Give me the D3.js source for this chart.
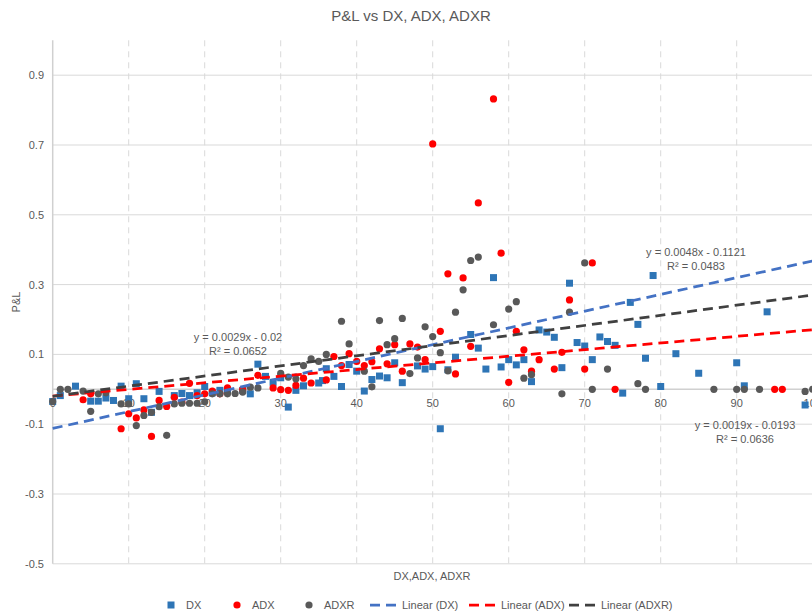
<html>
  <head>
    <meta charset="utf-8" />
    <title>P&amp;L vs DX, ADX, ADXR</title>
    <script src="https://d3js.org/d3.v7.min.js"></script>
    <style>
      body { margin: 0; background: #fff; }
      text { font-family: "Liberation Sans", Arial, sans-serif; fill: #595959; }
    </style>
  </head>
  <body>
    <div id="chart"></div>

    <script type="text/javascript">
      // values: [DX/ADX/ADXR value, P&L]
      var dxPoints = [
        [0, -0.035], [1, -0.018], [3, 0.009], [5, -0.034], [6, -0.034], [7, -0.025],
        [8, -0.032], [9, 0.009], [10, -0.027], [11, 0.016], [12, -0.027], [13, -0.066],
        [14, -0.006], [16, -0.018], [17, -0.012], [18, -0.018], [19, -0.01], [20, 0.008],
        [21, -0.01], [22, -0.003], [23, -0.003], [25, -0.003], [26, -0.013], [27, 0.072],
        [28, 0.037], [29, 0.02], [30, 0.033], [31, -0.051], [32, -0.003], [33, 0.01],
        [35, 0.018], [35.5, 0.025], [36, 0.059], [37, 0.037], [38, 0.008], [39, 0.071],
        [40, 0.052], [41, -0.005], [42, 0.028], [43, 0.038], [44, 0.033], [45, 0.076],
        [46, 0.019], [48, 0.067], [49, 0.058], [50, 0.065], [51, -0.113], [52, 0.056],
        [53, 0.092], [55, 0.157], [56, 0.118], [57, 0.058], [58, 0.32], [59, 0.064],
        [60, 0.085], [61, 0.07], [62, 0.085], [63, 0.022], [64, 0.17], [65, 0.164],
        [66, 0.149], [67, 0.062], [68, 0.304], [69, 0.134], [70, 0.124], [71, 0.085],
        [72, 0.15], [73, 0.137], [74, 0.126], [75, -0.011], [76, 0.249], [77, 0.186],
        [78, 0.089], [79, 0.326], [80, 0.008], [82, 0.102], [85, 0.046], [90, 0.076],
        [91, 0.01], [94, 0.222], [99, -0.045]
      ];

      var adxPoints = [
        [4, -0.03], [5, -0.013], [9, -0.113], [10, -0.07], [11, -0.082], [12, -0.059],
        [13, -0.135], [14, -0.032], [15, -0.049], [16, -0.023], [17, -0.037], [18, 0.017],
        [19, -0.018], [20, -0.013], [21, -0.005], [22, -0.013], [23, 0.004], [25, -0.001],
        [27, 0.04], [29, 0.004], [30, -0.001], [31, -0.003], [32, 0.011], [33, 0.032],
        [34, 0.018], [36, 0.027], [37, 0.094], [38, 0.068], [39, 0.102], [40, 0.08],
        [41, 0.068], [42, 0.079], [43, 0.116], [44, 0.073], [45, 0.128], [46, 0.052],
        [47, 0.13], [48, 0.121], [49, 0.085], [50, 0.703], [51, 0.166], [52, 0.331],
        [53, 0.044], [54, 0.319], [55, 0.123], [56, 0.534], [58, 0.832], [59, 0.39],
        [60, 0.02], [61, 0.166], [62, 0.113], [63, 0.052], [64, 0.085], [66, 0.058],
        [67, 0.106], [68, 0.256], [70, 0.058], [71, 0.362], [74, 0], [95, 0], [96, 0]
      ];

      var adxrPoints = [
        [0, -0.035], [1, 0], [2, 0], [4, -0.005], [5, -0.063], [6, -0.013], [7, -0.01],
        [9, -0.042], [10, -0.042], [11, -0.104], [12, -0.075], [13, -0.066], [14, -0.05],
        [15, -0.132], [16, -0.042], [17, -0.04], [18, -0.04], [19, -0.04], [20, -0.036],
        [21, -0.013], [22, -0.013], [23, -0.013], [24, -0.012], [25, -0.008], [26, 0.006],
        [27, 0.004], [30, 0.046], [31, 0.035], [32, 0.03], [33, 0.068], [34, 0.087],
        [35, 0.08], [36, 0.1], [38, 0.195], [39, 0.13], [41, 0.052], [42, 0.007],
        [43, 0.197], [44, 0.128], [45, 0.145], [46, 0.203], [47, 0.045], [48, 0.09],
        [49, 0.179], [50, 0.151], [51, 0.105], [52, 0.053], [53, 0.221], [54, 0.285],
        [55, 0.369], [56, 0.379], [58, 0.185], [60, 0.23], [61, 0.251], [62, 0.032],
        [63, 0.042], [67, -0.013], [68, 0.221], [70, 0.362], [71, 0], [73, 0.058],
        [77, 0.016], [78, 0], [87, 0], [90, 0], [91, 0], [93, 0], [99, -0.006], [100, 0]
      ];

      // linear trendlines as printed on the chart
      var trendSlopes = [0.0048, 0.0019, 0.0029];
      var trendIntercepts = [-0.1121, -0.0193, -0.02];
      var trendEquations = ["y = 0.0048x - 0.1121", "y = 0.0019x - 0.0193", "y = 0.0029x - 0.02"];
      var trendR2 = ["R² = 0.0483", "R² = 0.0636", "R² = 0.0652"];

      var seriesNames = ["DX", "ADX", "ADXR"];
      var trendNames = ["Linear (DX)", "Linear (ADX)", "Linear (ADXR)"];
      var yTicks = [-0.5, -0.3, -0.1, 0.1, 0.3, 0.5, 0.7, 0.9];
      var xTicks = [0, 10, 20, 30, 40, 50, 60, 70, 80, 90, 100];

      var width = 812;
      var height = 615;
      var markColors = ["#2e75b6", "#ff0000", "#595959"];
      var lineColors = ["#4472c4", "#ff0000", "#404040"];

      var svg = d3
        .select("#chart")
        .append("svg")
        .attr("width", width)
        .attr("height", height);

      var x = d3.scaleLinear().domain([0, 100]).range([52.7, 812.7]);
      var y = d3.scaleLinear().domain([-0.5, 1.0]).range([563.8, 40.3]);

      var fmt = function (d) {
        return d3.format(".1f")(d).replace("−", "-");
      };

      // title
      svg
        .append("text")
        .attr("x", 411)
        .attr("y", 21)
        .attr("text-anchor", "middle")
        .style("font-size", "15px")
        .text("P&L vs DX, ADX, ADXR");

      // horizontal gridlines
      svg
        .append("g")
        .selectAll("line")
        .data(yTicks)
        .enter()
        .append("line")
        .attr("x1", x(0))
        .attr("x2", width)
        .attr("y1", function (d) { return y(d); })
        .attr("y2", function (d) { return y(d); })
        .attr("stroke", "#d9d9d9")
        .attr("stroke-width", 1);

      // vertical dashed gridlines
      svg
        .append("g")
        .selectAll("line")
        .data(xTicks.slice(1))
        .enter()
        .append("line")
        .attr("x1", function (d) { return x(d); })
        .attr("x2", function (d) { return x(d); })
        .attr("y1", y(1.0))
        .attr("y2", y(-0.5))
        .attr("stroke", "#d9d9d9")
        .attr("stroke-width", 1)
        .attr("stroke-dasharray", "6,5");

      // axes lines
      svg
        .append("line")
        .attr("x1", x(0))
        .attr("x2", x(0))
        .attr("y1", y(1.0))
        .attr("y2", y(-0.5))
        .attr("stroke", "#d0d0d0")
        .attr("stroke-width", 1.5);
      svg
        .append("line")
        .attr("x1", x(0))
        .attr("x2", width)
        .attr("y1", y(0))
        .attr("y2", y(0))
        .attr("stroke", "#d0d0d0")
        .attr("stroke-width", 1.5);

      // y tick labels
      svg
        .append("g")
        .selectAll("text")
        .data(yTicks)
        .enter()
        .append("text")
        .attr("x", 44)
        .attr("y", function (d) { return y(d) + 4; })
        .attr("text-anchor", "end")
        .style("font-size", "11px")
        .text(fmt);

      // x tick labels (sit under the zero line)
      svg
        .append("g")
        .selectAll("text")
        .data(xTicks)
        .enter()
        .append("text")
        .attr("x", function (d) { return x(d); })
        .attr("y", y(0) + 18)
        .attr("text-anchor", "middle")
        .style("font-size", "11px")
        .text(function (d) { return d; });

      // axis titles
      svg
        .append("text")
        .attr("transform", "translate(20," + (y(0.25)) + ") rotate(-90)")
        .attr("text-anchor", "middle")
        .style("font-size", "11px")
        .text("P&L");
      svg
        .append("text")
        .attr("x", 432)
        .attr("y", 580)
        .attr("text-anchor", "middle")
        .style("font-size", "11px")
        .text("DX,ADX, ADXR");

      // points
      var plot = svg.append("g");
      plot
        .selectAll("rect.dx")
        .data(dxPoints)
        .enter()
        .append("rect")
        .attr("class", "dx")
        .attr("x", function (d) { return x(d[0]) - 3.5; })
        .attr("y", function (d) { return y(d[1]) - 3.5; })
        .attr("width", 7)
        .attr("height", 7)
        .attr("fill", markColors[0]);

      plot
        .selectAll("circle.adx")
        .data(adxPoints)
        .enter()
        .append("circle")
        .attr("class", "adx")
        .attr("cx", function (d) { return x(d[0]); })
        .attr("cy", function (d) { return y(d[1]); })
        .attr("r", 3.6)
        .attr("fill", markColors[1]);

      plot
        .selectAll("circle.adxr")
        .data(adxrPoints)
        .enter()
        .append("circle")
        .attr("class", "adxr")
        .attr("cx", function (d) { return x(d[0]); })
        .attr("cy", function (d) { return y(d[1]); })
        .attr("r", 3.6)
        .attr("fill", markColors[2]);

      // trend lines
      var line = d3
        .line()
        .x(function (d) { return x(d[0]); })
        .y(function (d) { return y(d[1]); });

      trendSlopes.forEach(function (m, i) {
        var b = trendIntercepts[i];
        svg
          .append("path")
          .attr("d", line([[0, b], [100, m * 100 + b]]))
          .attr("fill", "none")
          .attr("stroke", lineColors[i])
          .attr("stroke-width", 2.75)
          .attr("stroke-dasharray", "10,6");
      });

      // trend labels
      var labelPos = [[696, 252], [745, 425], [238, 337]];
      trendEquations.forEach(function (eq, i) {
        var g = svg.append("g").attr("transform", "translate(" + labelPos[i][0] + "," + labelPos[i][1] + ")");
        g.append("text")
          .attr("text-anchor", "middle")
          .attr("y", 4)
          .style("font-size", "11px")
          .text(eq);
        g.append("text")
          .attr("text-anchor", "middle")
          .attr("y", 18)
          .style("font-size", "11px")
          .text(trendR2[i]);
      });

      // legend
      var legendY = 605;
      var legend = svg.append("g");
      var markerX = [171, 237, 309];
      seriesNames.forEach(function (name, i) {
        if (i === 0) {
          legend.append("rect")
            .attr("x", markerX[i] - 3.5)
            .attr("y", legendY - 3.5)
            .attr("width", 7)
            .attr("height", 7)
            .attr("fill", markColors[i]);
        } else {
          legend.append("circle")
            .attr("cx", markerX[i])
            .attr("cy", legendY)
            .attr("r", 3.6)
            .attr("fill", markColors[i]);
        }
        legend.append("text")
          .attr("x", markerX[i] + 15)
          .attr("y", legendY + 4)
          .style("font-size", "11px")
          .text(name);
      });
      var lineX = [370, 469, 569];
      trendNames.forEach(function (name, i) {
        legend.append("line")
          .attr("x1", lineX[i])
          .attr("x2", lineX[i] + 27)
          .attr("y1", legendY)
          .attr("y2", legendY)
          .attr("stroke", lineColors[i])
          .attr("stroke-width", 2.75)
          .attr("stroke-dasharray", "10,6");
        legend.append("text")
          .attr("x", lineX[i] + 32)
          .attr("y", legendY + 4)
          .style("font-size", "11px")
          .text(name);
      });
    </script>
  </body>
</html>
